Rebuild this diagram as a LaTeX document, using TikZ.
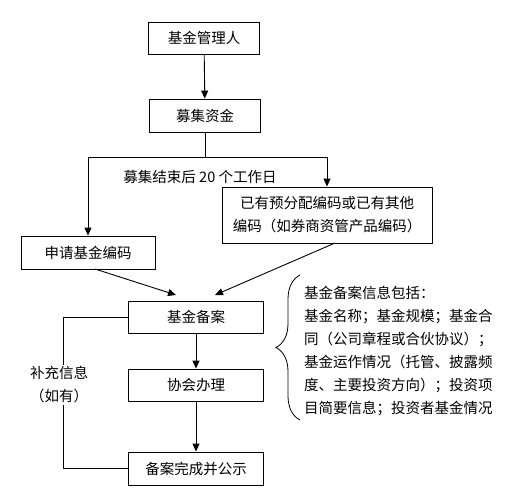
\documentclass[tikz,border=0pt]{standalone}
\usepackage{fontspec}
\newfontfamily\cjk{Noto Sans CJK SC}
\usetikzlibrary{arrows.meta,decorations.pathreplacing}
\begin{document}
\begin{tikzpicture}[x=1pt,y=-1pt,
  every node/.style={font=\cjk\fontsize{14.5pt}{23pt}\selectfont, inner sep=0pt},
  box/.style={draw, line width=0.9pt, align=center},
  arr/.style={line width=0.9pt, -{Triangle[length=8pt,width=7pt]}},
  ln/.style={line width=0.9pt}]
\useasboundingbox (0,0) rectangle (519,488);
\node[box, minimum width=111pt, minimum height=32pt] (b1) at (204,38) {基金管理人};
\node[box, minimum width=111pt, minimum height=33pt] (b2) at (205,115.5) {募集资金};
\node[box, minimum width=210pt, minimum height=56pt] (b3) at (327,215) {已有预分配编码或已有其他\\编码（如券商资管产品编码）};
\node[box, minimum width=134pt, minimum height=33pt] (b4) at (88,252.5) {申请基金编码};
\node[box, minimum width=135pt, minimum height=32pt] (b5) at (196,317) {基金备案};
\node[box, minimum width=135pt, minimum height=32pt] (b6) at (196,385) {协会办理};
\node[box, minimum width=135pt, minimum height=33pt] (b7) at (196,468.5) {备案完成并公示};
\node (lab) at (200,177) {募集结束后 20 个工作日};
\coordinate (split) at (205,157);
\coordinate (t1) at (176,295);
\coordinate (t2) at (215,295);
\coordinate (s1) at (95,269);
\coordinate (s2) at (335,243);
\coordinate (fb1) at (63,317);
\coordinate (fb2) at (63,468.5);
\draw[arr] (b1) -- (b2);
\draw[ln] (b2) -- (split);
\draw[arr] (split) -| (b4.north);
\draw[arr] (split) -| (b3.north);
\draw[arr] (s1) -- (t1);
\draw[arr] (s2) -- (t2);
\draw[arr] (b5) -- (b6);
\draw[arr] (b6) -- (b7);
\draw[line width=0.9pt] (b5.west) -- (fb1) -- (fb2) -- (b7.west);
\node[fill=white, align=center, inner sep=2pt] (sup) at (59,385) {补充信息\\（如有）};
\draw[line width=0.8pt, decorate, decoration={brace, amplitude=24pt}] (300,420) -- (300,275);
\node[anchor=north west, align=left] (info) at (304,286) {基金备案信息包括：\\基金名称；基金规模；基金合\\同（公司章程或合伙协议）；\\基金运作情况（托管、披露频\\度、主要投资方向）；投资项\\目简要信息；投资者基金情况};
\end{tikzpicture}
\end{document}
